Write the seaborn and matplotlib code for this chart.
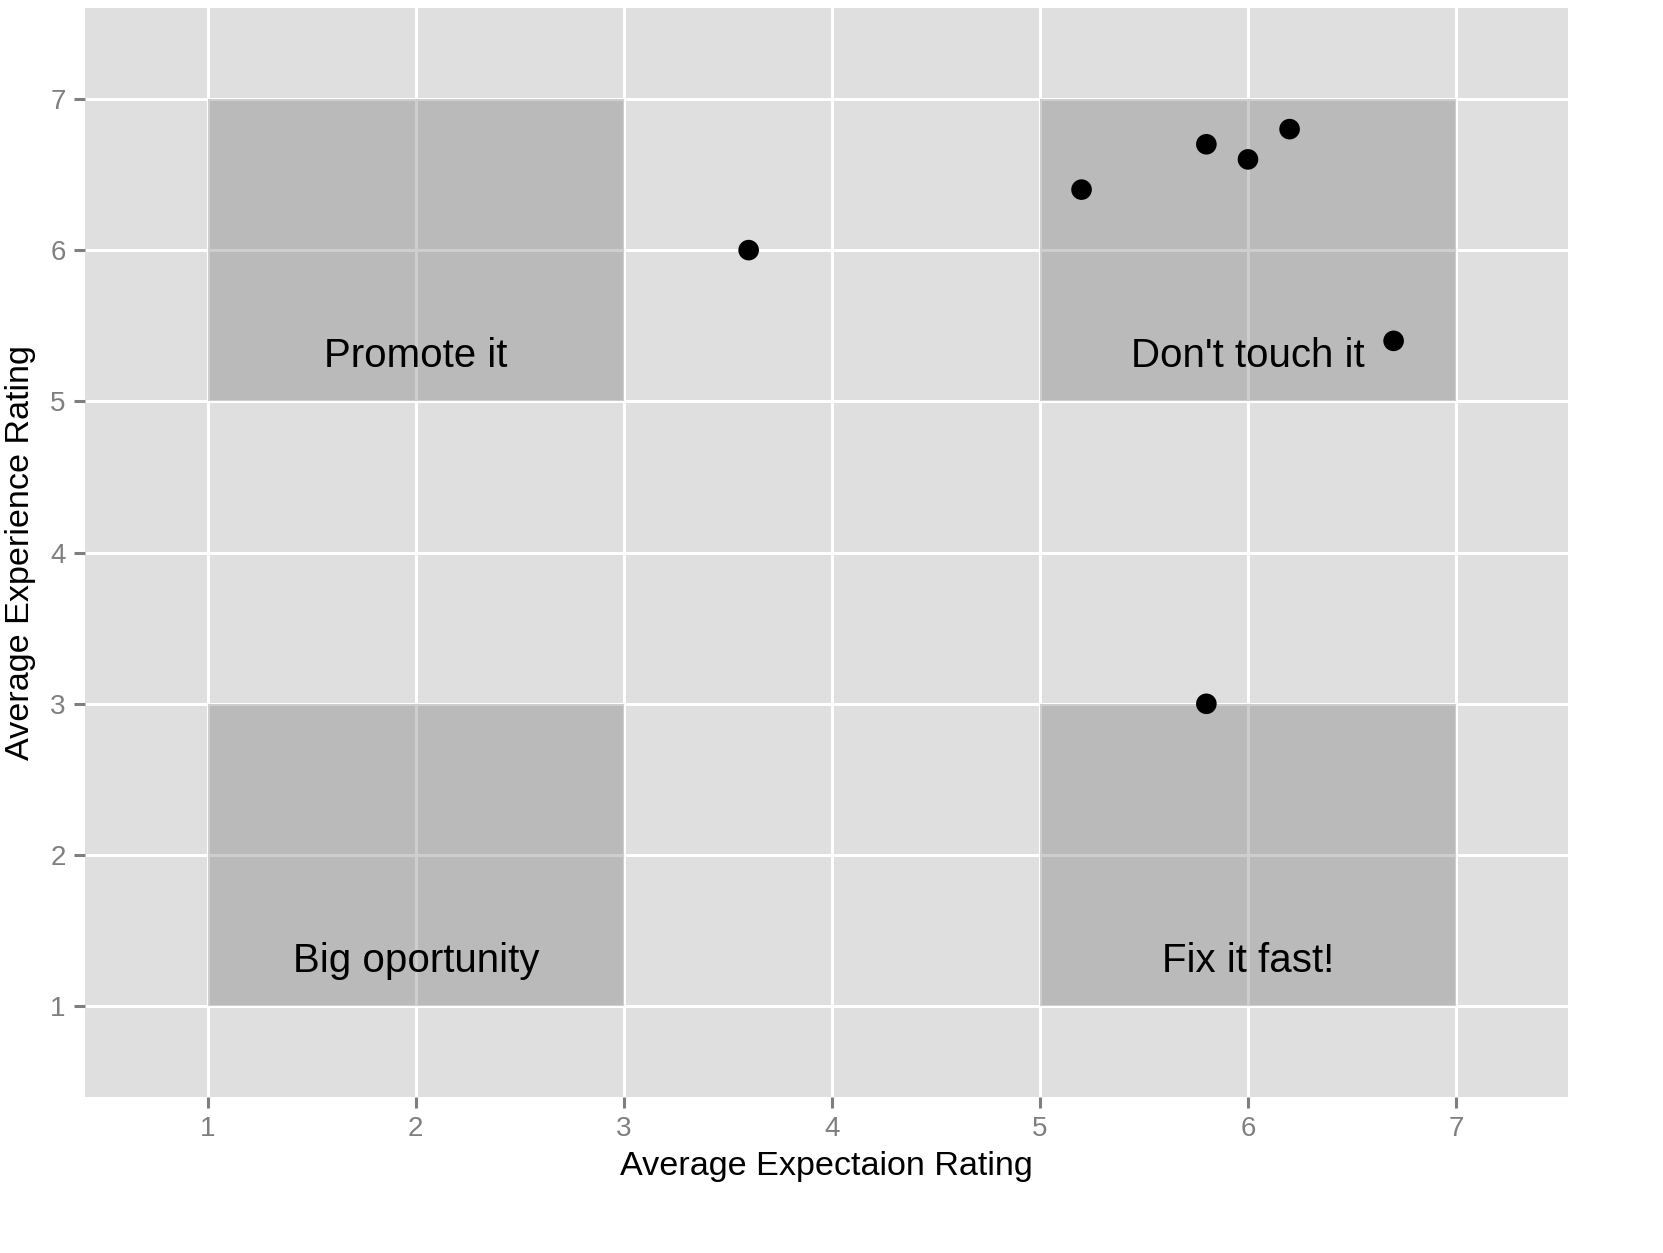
import matplotlib
matplotlib.use("Agg")
import matplotlib.pyplot as plt
import seaborn as sns
import pandas as pd
from matplotlib.patches import Rectangle

# data
exp_x = [3.6, 5.2, 5.8, 6.0, 6.2, 6.7, 5.8]
exp_y = [6.0, 6.4, 6.7, 6.6, 6.8, 5.4, 3.0]
rect_xmin = [1, 5, 1, 5]
rect_xmax = [3, 7, 3, 7]
rect_ymin = [5, 5, 1, 1]
rect_ymax = [7, 7, 3, 3]
labels = ["Promote it", "Don't touch it", "Big oportunity", "Fix it fast!"]
label_x = [2, 6, 2, 6]
label_y = [5.3, 5.3, 1.3, 1.3]
ticks = [1, 2, 3, 4, 5, 6, 7]

df = pd.DataFrame({"x": exp_x, "y": exp_y})

sns.set_theme(style="darkgrid")
plt.rcParams['font.family'] = ['Liberation Sans', 'DejaVu Sans']

fig = plt.figure(figsize=(16.63, 12.53), dpi=100)
ax = fig.add_axes([0.0511, 0.1245, 0.892, 0.869])
ax.set_facecolor("#DFDFDF")
ax.grid(True, color="white", linewidth=2.2)
ax.set_axisbelow(True)
for s in ax.spines.values():
    s.set_visible(False)

for x0, x1, y0, y1 in zip(rect_xmin, rect_xmax, rect_ymin, rect_ymax):
    ax.add_patch(Rectangle((x0, y0), x1 - x0, y1 - y0, facecolor="#7F7F7F",
                           alpha=0.38, edgecolor="none", zorder=2))

for t, lx, ly in zip(labels, label_x, label_y):
    ax.text(lx, ly, t, ha="center", va="center", fontsize=29, color="black", zorder=3)

sns.scatterplot(data=df, x="x", y="y", ax=ax, color="black", s=220,
                edgecolor="none", zorder=4)

ax.set_xlim(0.41, 7.54)
ax.set_ylim(0.40, 7.60)
ax.set_xticks(ticks)
ax.set_yticks(ticks)
ax.set_xticklabels([str(t) for t in ticks])
ax.set_yticklabels([str(t) for t in ticks])
ax.tick_params(axis="both", which="major", length=8, width=2.2, color="#7F7F7F",
               labelcolor="#7F7F7F", labelsize=20, pad=6, bottom=True, left=True)
ax.set_xlabel("Average Expectaion Rating", fontsize=24.6, color="black", labelpad=6)
ax.set_ylabel("Average Experience Rating", fontsize=24.6, color="black", labelpad=10)

fig.savefig("out.png", dpi=100)
